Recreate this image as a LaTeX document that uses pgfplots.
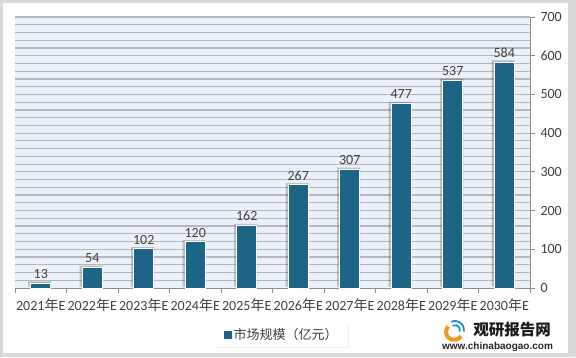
\documentclass[border=0pt]{standalone}
\usepackage{pgfplots}
\pgfplotsset{compat=1.18}
\usepackage{fontspec}
\setmainfont{Carlito}
\newfontfamily\cjk{Noto Sans CJK SC}
\newfontfamily\logofont{Liberation Sans}
\usetikzlibrary{shadows}
\definecolor{barc}{HTML}{1D6587}
\definecolor{txt}{HTML}{404040}
\definecolor{bgc}{HTML}{EAF1F8}
\definecolor{gridc}{HTML}{B5B7BA}
\definecolor{axc}{HTML}{8C8C8C}
\definecolor{framec}{HTML}{D9D9D9}
\definecolor{logoorange}{HTML}{F39A1E}
\definecolor{logoblue}{HTML}{1E8FCF}
\begin{document}
\begin{tikzpicture}[x=1bp,y=1bp]
\useasboundingbox (0,0) rectangle (576,357);
\fill[framec] (0,0) rectangle (576,357);
\fill[white] (3,4) rectangle (568,354);
\begin{axis}[
  at={(15bp,69bp)}, anchor=south west,
  scale only axis, width=515bp, height=271bp,
  xmin=-0.5, xmax=9.5, ymin=0, ymax=700,
  axis background/.style={fill=bgc},
  axis y line*=right, axis x line*=bottom,
  axis line style={axc, line width=0.8bp},
  tick align=outside, major tick length=5bp,
  tick style={axc, line width=0.8bp},
  xtick={-0.5,0.5,1.5,2.5,3.5,4.5,5.5,6.5,7.5,8.5,9.5},
  xticklabels={},
  extra x ticks={0,1,2,3,4,5,6,7,8,9},
  extra x tick labels={2021{\cjk 年}E,2022{\cjk 年}E,2023{\cjk 年}E,2024{\cjk 年}E,2025{\cjk 年}E,2026{\cjk 年}E,2027{\cjk 年}E,2028{\cjk 年}E,2029{\cjk 年}E,2030{\cjk 年}E},
  extra x tick style={major tick length=0pt, xmajorgrids=false,
    tick label style={yshift=-7bp}},
  ytick={0,100,200,300,400,500,600,700},
  grid style={gridc, line width=1.2bp},
  extra y ticks={20,40,60,80,100,120,140,160,180,200,220,240,260,280,300,320,340,360,380,400,420,440,460,480,500,520,540,560,580,600,620,640,660,680,700},
  extra y tick labels={},
  extra y tick style={major tick length=0pt, ymajorgrids=true},
  tick label style={font=\fontsize{14bp}{16bp}\selectfont, text=txt},
  yticklabel style={xshift=2bp},
  /pgf/number format/assume math mode=true,
  /pgf/number format/1000 sep={},
  legend style={at={(0.518,-0.1716)}, anchor=center, draw=none, fill=white,
    font=\cjk\fontsize{13bp}{15bp}\selectfont, text=txt,
    inner xsep=8bp, inner ysep=4bp,
    drop shadow={opacity=0.12, shadow xshift=1.5bp, shadow yshift=-1.5bp}},
  clip=false,
]
\addplot[ybar, bar width=23bp, bar shift=0pt, fill=black, opacity=0.2, draw=none,
  xshift=-1.2bp, yshift=1.5bp, forget plot]
  coordinates {(0,13) (1,54) (2,102) (3,120) (4,162) (5,267) (6,307) (7,477) (8,537) (9,584)};
\addplot[ybar, bar width=20bp, bar shift=0pt, fill=barc, draw=white, line width=0.8bp,
  nodes near coords,
  nodes near coords style={font=\fontsize{14bp}{16bp}\selectfont, text=txt, inner sep=4bp},
  legend image code/.code={\fill[barc] (0bp,-3.5bp) rectangle (7bp,3.5bp);}]
  coordinates {(0,13) (1,54) (2,102) (3,120) (4,162) (5,267) (6,307) (7,477) (8,537) (9,584)};
\addlegendentry{市场规模（亿元）}
\end{axis}
% watermark logo
\draw[logoorange, line width=4bp] (454,25) ++(135:8) arc (135:330:8);
\draw[logoblue, line width=1.8bp] (455,27) ++(-20:5) arc (-20:120:5);
\draw[logoblue, line width=1.8bp] (455,27) ++(-10:9) arc (-10:115:9);
\node[font=\cjk\bfseries\fontsize{15.5bp}{17bp}\selectfont, text=black!90] at (512,27) {观研报告网};
\node[font=\logofont\bfseries\fontsize{10bp}{12bp}\selectfont, text=black!85] at (497.5,10) {www.chinabaogao.com};
\end{tikzpicture}
\end{document}
